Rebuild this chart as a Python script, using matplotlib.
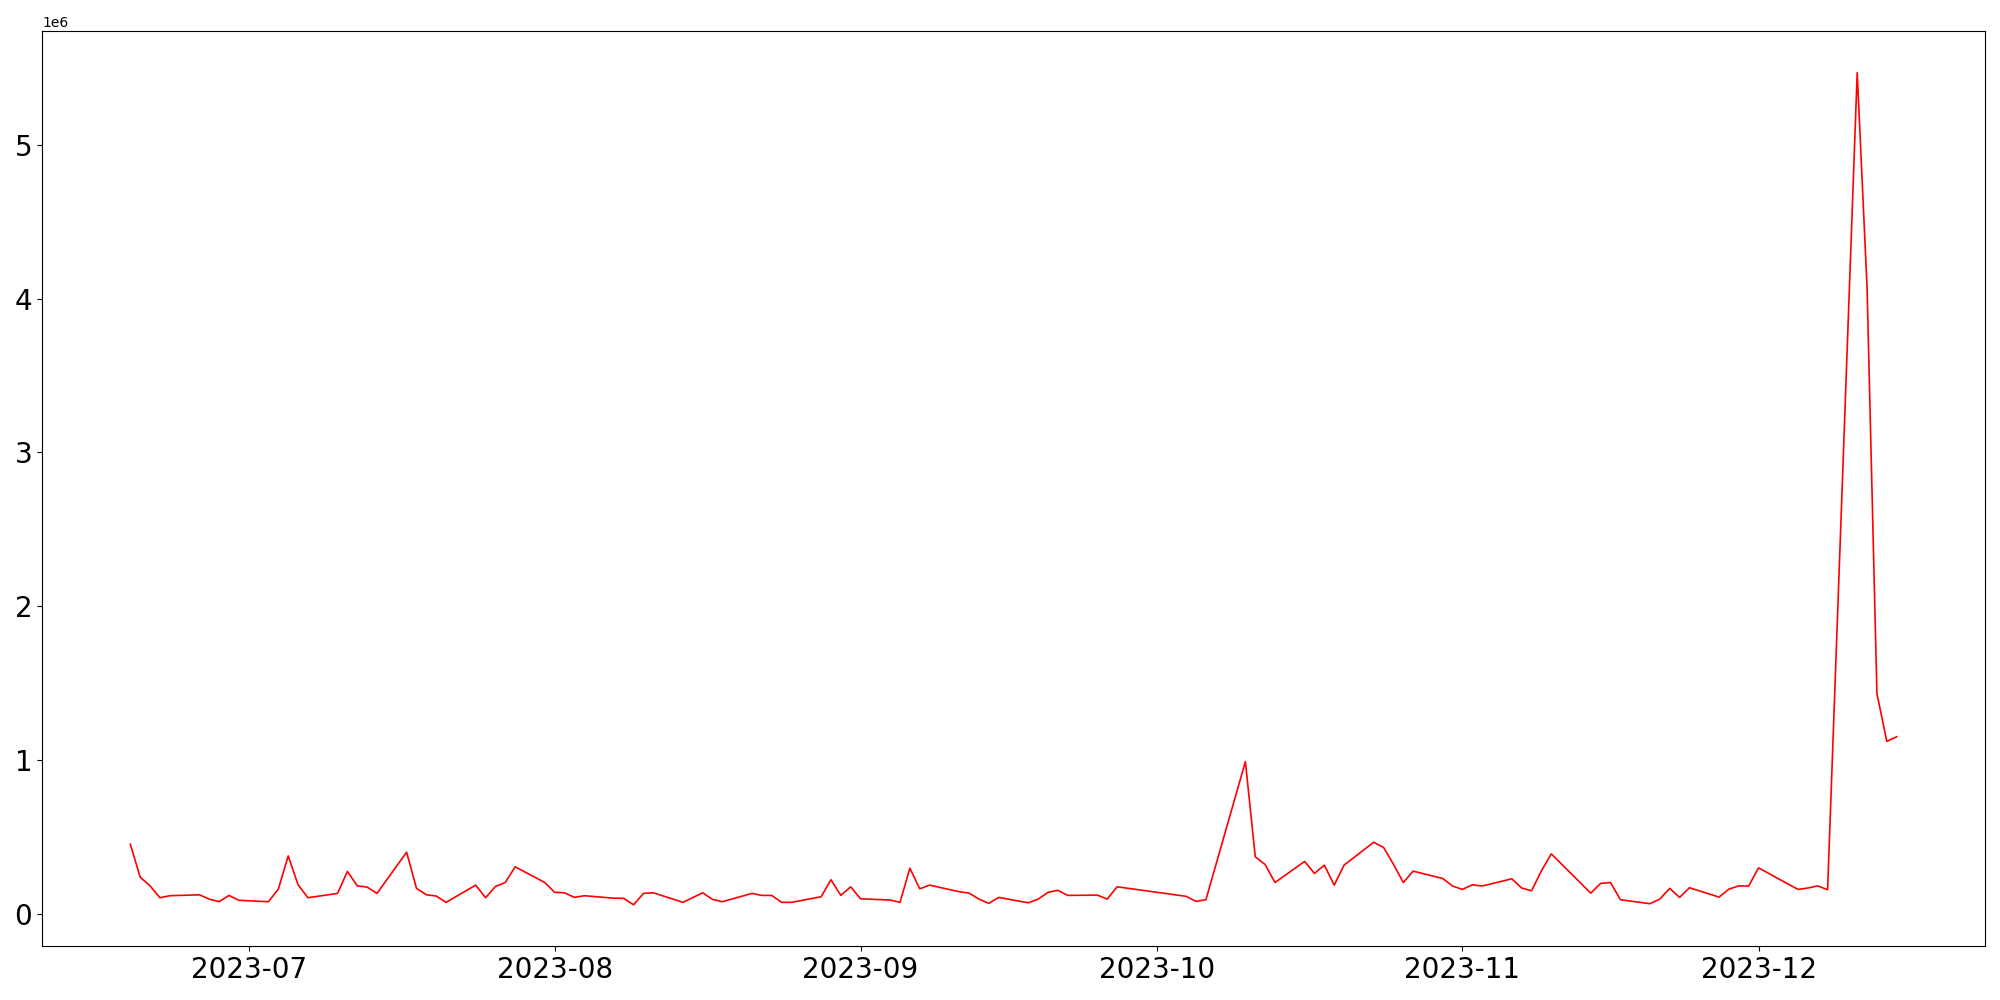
import matplotlib
matplotlib.use("Agg")
import matplotlib.pyplot as plt
import matplotlib.dates as mdates
import pandas as pd

dates = [
    "2023-06-19", "2023-06-20", "2023-06-21", "2023-06-22", "2023-06-23",
    "2023-06-26", "2023-06-27", "2023-06-28", "2023-06-29", "2023-06-30",
    "2023-07-03", "2023-07-04", "2023-07-05", "2023-07-06", "2023-07-07",
    "2023-07-10", "2023-07-11", "2023-07-12", "2023-07-13", "2023-07-14",
    "2023-07-17", "2023-07-18", "2023-07-19", "2023-07-20", "2023-07-21",
    "2023-07-24", "2023-07-25", "2023-07-26", "2023-07-27", "2023-07-28",
    "2023-07-31", "2023-08-01", "2023-08-02", "2023-08-03", "2023-08-04",
    "2023-08-07", "2023-08-08", "2023-08-09", "2023-08-10", "2023-08-11",
    "2023-08-14", "2023-08-16", "2023-08-17", "2023-08-18",
    "2023-08-21", "2023-08-22", "2023-08-23", "2023-08-24", "2023-08-25",
    "2023-08-28", "2023-08-29", "2023-08-30", "2023-08-31", "2023-09-01",
    "2023-09-04", "2023-09-05", "2023-09-06", "2023-09-07", "2023-09-08",
    "2023-09-11", "2023-09-12", "2023-09-13", "2023-09-14", "2023-09-15",
    "2023-09-18", "2023-09-19", "2023-09-20", "2023-09-21", "2023-09-22",
    "2023-09-25", "2023-09-26", "2023-09-27",
    "2023-10-04", "2023-10-05", "2023-10-06",
    "2023-10-10", "2023-10-11", "2023-10-12", "2023-10-13",
    "2023-10-16", "2023-10-17", "2023-10-18", "2023-10-19", "2023-10-20",
    "2023-10-23", "2023-10-24", "2023-10-25", "2023-10-26", "2023-10-27",
    "2023-10-30", "2023-10-31", "2023-11-01", "2023-11-02", "2023-11-03",
    "2023-11-06", "2023-11-07", "2023-11-08", "2023-11-09", "2023-11-10",
    "2023-11-14", "2023-11-15", "2023-11-16", "2023-11-17",
    "2023-11-20", "2023-11-21", "2023-11-22", "2023-11-23", "2023-11-24",
    "2023-11-27", "2023-11-28", "2023-11-29", "2023-11-30", "2023-12-01",
    "2023-12-05", "2023-12-06", "2023-12-07", "2023-12-08",
    "2023-12-11", "2023-12-12", "2023-12-13", "2023-12-14", "2023-12-15",
]

values = [
    451000, 237000, 180000, 103000, 116000,
    122000, 94000, 77000, 118000, 86000,
    77000, 159000, 375000, 187000, 103000,
    131000, 274000, 180000, 172000, 131000,
    399000, 164000, 122000, 114000, 73000,
    185000, 103000, 176000, 202000, 304000,
    202000, 138000, 135000, 105000, 116000,
    100000, 99000, 57000, 131000, 135000,
    73000, 135000, 92000, 77000,
    131000, 118000, 118000, 73000, 73000,
    109000, 220000, 118000, 174000, 96000,
    88000, 73000, 295000, 161000, 185000,
    142000, 133000, 94000, 66000, 105000,
    70000, 94000, 138000, 151000, 118000,
    120000, 94000, 174000,
    112000, 79000, 90000,
    988000, 369000, 319000, 202000,
    339000, 261000, 315000, 185000, 315000,
    464000, 430000, 321000, 202000, 276000,
    228000, 179000, 157000, 187000, 179000,
    226000, 166000, 148000, 278000, 388000,
    133000, 196000, 202000, 90000,
    64000, 94000, 164000, 105000, 168000,
    107000, 159000, 180000, 179000, 297000,
    157000, 166000, 180000, 155000,
    5470000, 4070000, 1430000, 1120000, 1150000,
]

x = pd.to_datetime(dates)

fig = plt.figure(figsize=(20, 10), dpi=100)
ax = fig.add_axes([0.021, 0.0536, 0.9715, 0.9154])
ax.plot(x, values, color="red", linewidth=1.2)

ax.xaxis.set_major_locator(mdates.MonthLocator())
ax.xaxis.set_major_formatter(mdates.DateFormatter("%Y-%m"))
ax.tick_params(axis="both", labelsize=20)
ax.yaxis.get_offset_text().set_fontsize(10)

fig.savefig("out.png", dpi=100)
